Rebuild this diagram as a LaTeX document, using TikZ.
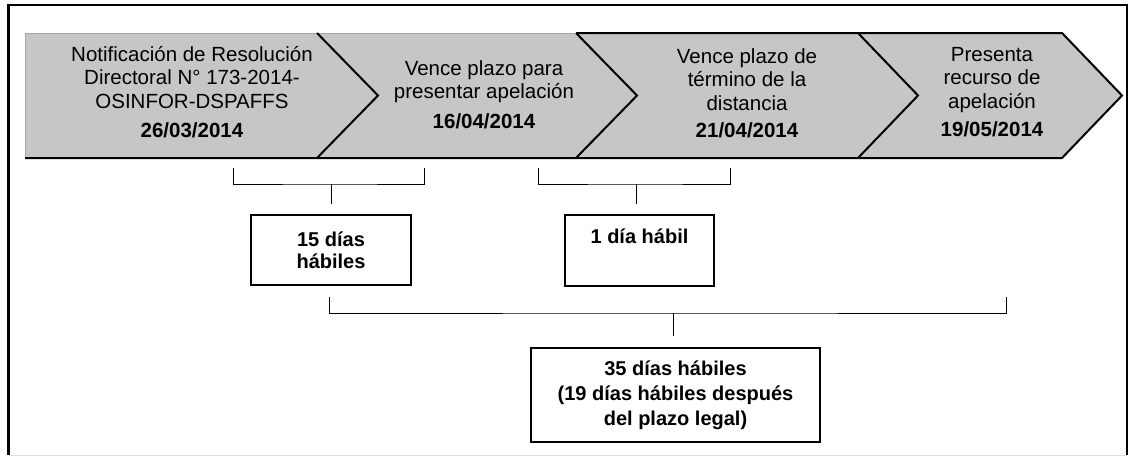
\documentclass[tikz,border=0pt]{standalone}
\usepackage{fontspec}
\setmainfont{Liberation Sans}
\definecolor{chevgray}{RGB}{198,198,198}
\begin{document}
\begin{tikzpicture}[x=1pt,y=-1pt,
  chevtext/.style={align=center,font=\fontsize{20.5}{23.5}\selectfont,inner sep=0pt},
  daybox/.style={draw=black,line width=1.5pt,align=center,font=\bfseries\fontsize{20}{22}\selectfont,inner sep=0pt},
  bigbox/.style={daybox,font=\bfseries\fontsize{20}{25}\selectfont},
  bracket/.style={draw=black,line width=1pt},
  edgeline/.style={draw=black,line width=2pt,line join=miter},
  softedge/.style={draw=gray!70,line width=0.6pt}]
\useasboundingbox (0,0) rectangle (1131,456);
% outer frame
\draw[line width=2.5pt] (1127,455) -- (1127,5) -- (8.5,5);
\draw[line width=3pt] (8.5,4) -- (8.5,455);
\draw[gray!25,line width=1pt] (8.5,455) -- (1127,455);
% chevrons
\fill[chevgray] (25,33) -- (317,33) -- (378,95.5) -- (317,158) -- (25,158) -- cycle;
\fill[chevgray] (317,33) -- (576,33) -- (637,95.5) -- (576,158) -- (317,158) -- (378,95.5) -- cycle;
\fill[chevgray] (576,33) -- (858,33) -- (918,95.5) -- (858,158) -- (576,158) -- (637,95.5) -- cycle;
\fill[chevgray] (858,33) -- (1062,33) -- (1122,95.5) -- (1062,158) -- (858,158) -- (918,95.5) -- cycle;
\draw[softedge] (576,33) -- (25,33) -- (25,158);
\draw[edgeline] (25,158) -- (317,158) -- (378,95.5) -- (317,33);
\draw[edgeline] (317,158) -- (576,158) -- (637,95.5) -- (576,33);
\draw[edgeline] (576,33) -- (858,33) -- (918,95.5) -- (858,158) -- (576,158);
\draw[edgeline] (858,33) -- (1062,33) -- (1122,95.5) -- (1062,158) -- (858,158);
% chevron texts
\node[chevtext] (t1) at (192,92) {Notificación de Resolución\\Directoral N° 173-2014-\\OSINFOR-DSPAFFS\\[6pt]\textbf{26/03/2014}};
\node[chevtext] (t2) at (484,94.5) {Vence plazo para\\presentar apelación\\[6pt]\textbf{16/04/2014}};
\node[chevtext] (t3) at (747,93.5) {Vence plazo de\\término de la\\distancia\\[4pt]\textbf{21/04/2014}};
\node[chevtext] (t4) at (992,92) {Presenta\\recurso de\\apelación\\[5pt]\textbf{19/05/2014}};
% day boxes
\node[daybox,minimum width=160pt,minimum height=70pt] (box15) at (331,250) {15 días\\hábiles};
\node[daybox,minimum width=149pt,minimum height=71pt] (box1) at (639.5,250.5) {1 día hábil\\\strut};
\node[bigbox,minimum width=289pt,minimum height=94pt] (box35) at (675.5,395) {35 días hábiles\\(19 días hábiles después\\del plazo legal)};
% brackets
\coordinate (b1l) at (233,168);
\coordinate (b1r) at (424,168);
\coordinate (b1c) at (331,184);
\coordinate (s1) at ([yshift=10pt]box15.north);
\draw[bracket] (b1l) |- (b1c) -| (b1r);
\draw[bracket] (b1c) -- (b1c |- s1);
\coordinate (b2l) at (538,168);
\coordinate (b2r) at (730,168);
\coordinate (b2c) at (636,184);
\coordinate (s2) at ([yshift=10pt]box1.north);
\draw[bracket] (b2l) |- (b2c) -| (b2r);
\draw[bracket] (b2c) -- (b2c |- s2);
\coordinate (b3l) at (329,297);
\coordinate (b3r) at (1006,297);
\coordinate (b3c) at (673,313);
\coordinate (s3) at ([yshift=11pt]box35.north);
\draw[bracket] (b3l) |- (b3c) -| (b3r);
\draw[bracket] (b3c) -- (b3c |- s3);
\end{tikzpicture}
\end{document}
